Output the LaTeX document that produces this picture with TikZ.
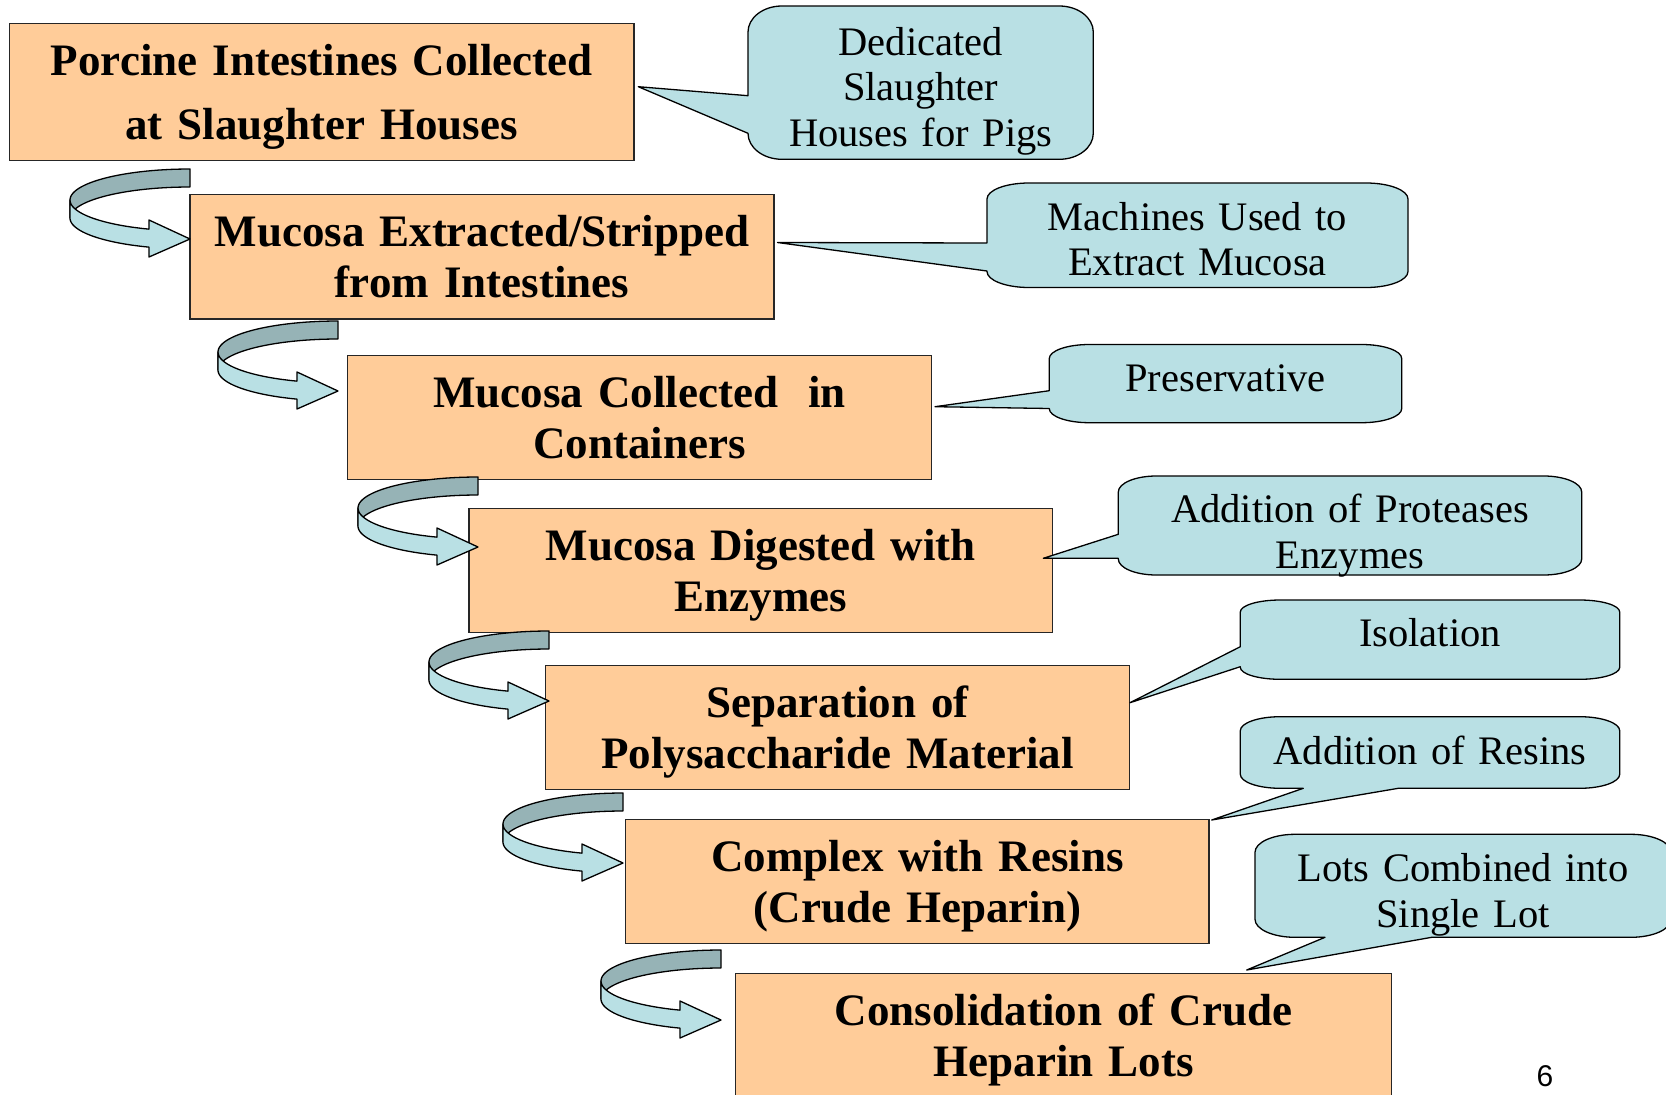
\documentclass[tikz,border=0pt]{standalone}
\usepackage{fontspec}
\setmainfont{Liberation Serif}
\setsansfont{Liberation Sans}
\definecolor{boxfill}{RGB}{255,204,153}
\definecolor{callfill}{RGB}{185,224,228}
\definecolor{arrdarkc}{RGB}{150,179,182}
\definecolor{arrlightc}{RGB}{185,224,228}
\tikzset{
 box/.style={draw=black!85, line width=1.4pt, fill=boxfill, inner sep=0pt, align=center, text height=31pt, text depth=51pt, font=\bfseries\fontsize{45}{51}\selectfont},
 calloutshape/.style={draw=black, line width=1.3pt, fill=callfill, line join=round},
 ctext/.style={inner sep=0pt, align=center, text width=460pt, anchor=base, font=\fontsize{40.5}{45.5}\selectfont},
 arrdark/.style={draw=black, line width=1.3pt, fill=arrdarkc, line join=round},
 arrlight/.style={draw=black, line width=1.3pt, fill=arrlightc, line join=round},
}
% callout with tail on the left side: x1 y1 x2 y2 rx ry b1 b2 tip
\newcommand{\callL}[9]{%
\filldraw[calloutshape] (#1,#7) -- (#1,#2+#6)
 .. controls (#1,#2+0.448*#6) and (#1+0.448*#5,#2) .. (#1+#5,#2)
 -- (#3-#5,#2)
 .. controls (#3-0.448*#5,#2) and (#3,#2+0.448*#6) .. (#3,#2+#6)
 -- (#3,#4-#6)
 .. controls (#3,#4-0.448*#6) and (#3-0.448*#5,#4) .. (#3-#5,#4)
 -- (#1+#5,#4)
 .. controls (#1+0.448*#5,#4) and (#1,#4-0.448*#6) .. (#1,#4-#6)
 -- (#1,#8) -- (#9) -- cycle;}
% callout with tail on the bottom side: x1 y1 x2 y2 rx ry bx1 bx2 tip
\newcommand{\callB}[9]{%
\filldraw[calloutshape] (#1,#2+#6)
 .. controls (#1,#2+0.448*#6) and (#1+0.448*#5,#2) .. (#1+#5,#2)
 -- (#3-#5,#2)
 .. controls (#3-0.448*#5,#2) and (#3,#2+0.448*#6) .. (#3,#2+#6)
 -- (#3,#4-#6)
 .. controls (#3,#4-0.448*#6) and (#3-0.448*#5,#4) .. (#3-#5,#4)
 -- (#8,#4) -- (#9) -- (#7,#4)
 -- (#1+#5,#4)
 .. controls (#1+0.448*#5,#4) and (#1,#4-0.448*#6) .. (#1,#4-#6)
 -- cycle;}
% curved right arrow: X (tip / strip end), y of top of strip
\newcommand{\curvedarrow}[2]{%
 \pgfmathsetmacro\ax{#1}\pgfmathsetmacro\ac{#2+31}%
 \filldraw[arrdark] (\ax,#2) -- plot[domain=270:180,samples=30] ({\ax+120*cos(\x)},{\ac+31*sin(\x)})
   -- plot[domain=180:270,samples=30] ({\ax+120*cos(\x)},{\ac+18+31*sin(\x)}) -- cycle;
 \filldraw[arrlight] plot[domain=180:110,samples=30] ({\ax+120*cos(\x)},{\ac+31*sin(\x)})
   -- (\ax-41,\ac+20) -- (\ax,\ac+39) -- (\ax-41,\ac+57)
   -- plot[domain=110:180,samples=30] ({\ax+120*cos(\x)},{\ac+18+31*sin(\x)}) -- cycle;
}
\begin{document}
\begin{tikzpicture}[x=1pt,y=-1pt]
\useasboundingbox (0,0) rectangle (1666,1095);
\fill[white] (0,0) rectangle (1666,1095);

% process boxes
\node[box, minimum width=624.7pt, minimum height=137.4pt, text width=610pt, text depth=64pt, font=\bfseries\fontsize{45}{64}\selectfont] (b1) at (321.7,92) {Porcine Intestines Collected\\at Slaughter Houses};
\node[box, minimum width=584pt, minimum height=124.7pt, text width=570pt] (b2) at (482,256.7) {Mucosa Extracted/Stripped\\from Intestines};
\node[box, minimum width=584pt, minimum height=123.6pt, text width=570pt] (b3) at (639.7,417.5) {Mucosa Collected\ \ in\\Containers};
\node[box, minimum width=583.7pt, minimum height=124pt, text width=570pt] (b4) at (760.9,570.3) {Mucosa Digested with\\Enzymes};
\node[box, minimum width=584pt, minimum height=124pt, text width=570pt] (b5) at (837.3,727.3) {Separation of\\Polysaccharide Material};
\node[box, minimum width=583.3pt, minimum height=124pt, text width=570pt] (b6) at (917.4,881.3) {Complex with Resins\\(Crude Heparin)};
\node[box, minimum width=656pt, minimum height=125pt, text width=640pt] (b7) at (1063.7,1035.8) {Consolidation of Crude\\Heparin Lots};

% curved arrows between steps
\curvedarrow{190}{169}
\curvedarrow{338}{321}
\curvedarrow{478}{477}
\curvedarrow{549}{631}
\curvedarrow{623}{793}
\curvedarrow{721}{950}

% callouts
\callL{748}{6}{1093.3}{159.3}{34}{26}{95.7}{133.3}{638.3,86.7}
\callL{987}{183}{1408}{287.5}{42}{16}{243}{271}{777.5,242.5}
\callL{1049.3}{344.5}{1401.7}{422.7}{40}{14}{390.7}{408.5}{935,406.7}
\callL{1118.3}{476}{1581.7}{575}{38}{16}{534.3}{558.3}{1043.3,558.3}
\callL{1240.3}{600}{1619.7}{679.3}{40}{12}{646.7}{666.7}{1130,702.7}
\callB{1240.3}{716.7}{1619.7}{788.3}{40}{14}{1303.3}{1398.3}{1211.7,820}
\callB{1255}{834.3}{1671}{937.3}{40}{18}{1325}{1431.7}{1246.7,970}

\node[ctext] (c1) at (920.7,55) {Dedicated\\Slaughter\\Houses for Pigs};
\node[ctext] (c2) at (1197.5,230) {Machines Used to\\Extract Mucosa};
\node[ctext] (c3) at (1225.5,391) {Preservative};
\node[ctext] (c4) at (1350,522.7) {Addition of Proteases\\Enzymes};
\node[ctext] (c5) at (1430,646) {Isolation};
\node[ctext] (c6) at (1430,764) {Addition of Resins};
\node[ctext] (c7) at (1463,881.7) {Lots Combined into\\Single Lot};

\node[anchor=base, inner sep=0pt, font=\sffamily\fontsize{30}{36}\selectfont] (pg) at (1545,1086.7) {6};
\end{tikzpicture}
\end{document}
